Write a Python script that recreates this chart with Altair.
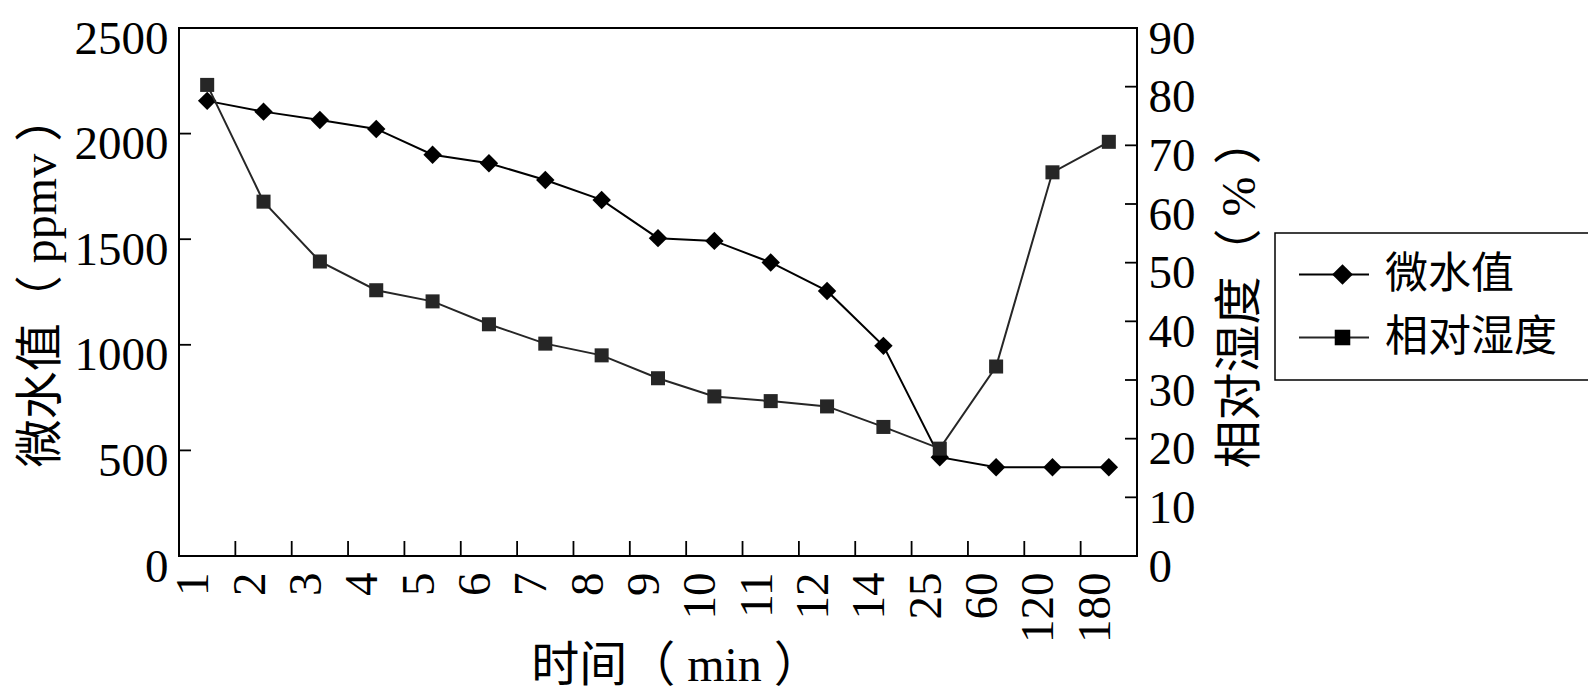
import altair as alt
import pandas as pd

# ---------------- data ----------------
times = ["1", "2", "3", "4", "5", "6", "7", "8", "9", "10", "11", "12", "14", "25", "60", "120", "180"]
moisture = [2155, 2104, 2064, 2022, 1900, 1860, 1780, 1686, 1505, 1492, 1390, 1255, 995, 468, 420, 420, 420]
humidity = [80.3, 60.4, 50.2, 45.3, 43.4, 39.5, 36.2, 34.2, 30.3, 27.2, 26.4, 25.5, 22.0, 18.3, 32.3, 65.4, 70.6]
series_names = ["微水值", "相对湿度"]
marker_keys = ["d", "s"]
left_ticks = [500, 1000, 1500, 2000]
right_ticks = [10, 20, 30, 40, 50, 60, 70, 80]
left_labels = [0, 500, 1000, 1500, 2000, 2500]
right_labels = [0, 10, 20, 30, 40, 50, 60, 70, 80, 90]

W, H = 958, 528
LATIN = "Liberation Serif"
MIXED = "Liberation Serif, Noto Sans CJK SC"
SQ_COLOR = "#262626"
TICK_FS = 47
TITLE_FS = 48

df = pd.DataFrame({"time": times, "moisture": moisture, "humidity": humidity})
xticks_df = pd.DataFrame({"b": times[1:]})
lt_df = pd.DataFrame({"v": left_ticks})
rt_df = pd.DataFrame({"v": right_ticks})

xscale = alt.Scale(type="band", domain=times, paddingInner=0, paddingOuter=0)
lscale = alt.Scale(domain=[0, 2500], nice=False)
rscale = alt.Scale(domain=[0, 90], nice=False)

x_axis = alt.Axis(
    title="时间（ min ）",
    labelAngle=-90,
    labelFont=LATIN,
    labelFontSize=TICK_FS,
    labelColor="black",
    labelPadding=16,
    labelOffset=-13,
    ticks=False,
    tickSize=0,
    domain=False,
    grid=False,
    labelOverlap=False,
    titleFont=MIXED,
    titleFontSize=TITLE_FS,
    titleFontWeight="normal",
    titleColor="black",
    titleX=497,
    titleY=110,
    titleAlign="center",
    titleBaseline="middle",
)

left_axis = alt.Axis(
    orient="left",
    values=left_labels,
    format="d",
    title="微水值（ ppmv ）",
    labelFont=LATIN,
    labelFontSize=TICK_FS,
    labelColor="black",
    labelPadding=11,
    labelOffset=11,
    labelFlush=False,
    labelOverlap=False,
    ticks=False,
    tickSize=0,
    domain=False,
    grid=False,
    titleFont=MIXED,
    titleFontSize=TITLE_FS,
    titleFontWeight="normal",
    titleColor="black",
    titleAngle=270,
    titleX=-138,
    titleY=252,
    titleAlign="center",
    titleBaseline="middle",
)

right_axis = alt.Axis(
    orient="right",
    values=right_labels,
    format="d",
    title="相对湿度（ % ）",
    labelFont=LATIN,
    labelFontSize=TICK_FS,
    labelColor="black",
    labelPadding=11,
    labelOffset=11,
    labelFlush=False,
    labelOverlap=False,
    ticks=False,
    tickSize=0,
    domain=False,
    grid=False,
    titleFont=MIXED,
    titleFontSize=TITLE_FS,
    titleFontWeight="normal",
    titleColor="black",
    titleAngle=270,
    titleX=103,
    titleY=264,
    titleAlign="center",
    titleBaseline="middle",
)


def xenc(field="time:N", band=0.5):
    return alt.X(field, scale=xscale, bandPosition=band, axis=x_axis)


LEG_X = 1096
LEG_Y = 205
LEG_PAD = 20
LEG_ROWPAD = 19
LEG_FONT = 43

stroke_enc = alt.Stroke(
    "series:N",
    scale=alt.Scale(domain=series_names, range=["black", SQ_COLOR]),
    legend=alt.Legend(
        title=None,
        orient="none",
        legendX=LEG_X,
        legendY=LEG_Y,
        padding=LEG_PAD,
        rowPadding=LEG_ROWPAD,
        strokeColor="black",
        labelFont=MIXED,
        labelFontSize=LEG_FONT,
        labelColor="black",
        labelOffset=47,
        labelLimit=1000,
        labelExpr="datum.label + '\u2800\u2800\u2800\u2800\u2800\u2800'",
        symbolType="M-1,0L3,0",
        symbolSize=1225,
        symbolStrokeWidth=2.2,
        symbolOpacity=1,
    ),
)

square_path = "M-0.75,-0.75L0.75,-0.75L0.75,0.75L-0.75,0.75Z"

shape_enc = alt.Shape(
    "marker:N",
    scale=alt.Scale(domain=marker_keys, range=["diamond", square_path]),
    legend=alt.Legend(
        title=None,
        orient="none",
        legendX=LEG_X + 26,
        legendY=LEG_Y,
        padding=LEG_PAD,
        rowPadding=LEG_ROWPAD,
        labelFont=MIXED,
        labelFontSize=LEG_FONT,
        labelExpr="' '",
        labelOpacity=0,
        symbolSize=430,
        symbolStrokeWidth=0,
        symbolOpacity=1,
        symbolFillColor="black",
    ),
)

base = alt.Chart(df)

m_line = base.transform_calculate(series="'微水值'").mark_line(strokeWidth=2).encode(
    x=xenc(), y=alt.Y("moisture:Q", scale=lscale, axis=left_axis), stroke=stroke_enc
)
m_pts = base.transform_calculate(marker="'d'").mark_point(
    filled=True, size=340, color="black", opacity=1
).encode(x=xenc(), y=alt.Y("moisture:Q", scale=lscale, axis=left_axis), shape=shape_enc)
m_ticks = alt.Chart(lt_df).mark_rule(color="black", strokeWidth=1.8).encode(
    y=alt.Y("v:Q", scale=lscale, axis=left_axis),
    x=alt.value(0),
    x2=alt.value(12),
)
left_layer = alt.layer(m_line, m_pts, m_ticks)

h_line = base.transform_calculate(series="'相对湿度'").mark_line(strokeWidth=2).encode(
    x=xenc(), y=alt.Y("humidity:Q", scale=rscale, axis=right_axis), stroke=stroke_enc
)
h_pts = base.transform_calculate(marker="'s'").mark_point(
    filled=True, size=350, color=SQ_COLOR, opacity=1
).encode(x=xenc(), y=alt.Y("humidity:Q", scale=rscale, axis=right_axis), shape=shape_enc)
r_ticks = alt.Chart(rt_df).mark_rule(color="black", strokeWidth=1.8).encode(
    y=alt.Y("v:Q", scale=rscale, axis=right_axis),
    x=alt.value(W - 12),
    x2=alt.value(W),
)
right_layer = alt.layer(h_line, h_pts, r_ticks)

x_ticks = alt.Chart(xticks_df).mark_rule(color="black", strokeWidth=1.8).encode(
    x=xenc("b:N", band=0),
    y=alt.value(H - 15),
    y2=alt.value(H),
)

chart = (
    alt.layer(left_layer, right_layer, x_ticks)
    .resolve_scale(y="independent")
    .properties(
        width=W,
        height=H,
        padding={"left": 171, "top": 20, "right": 451, "bottom": 134},
        autosize=alt.AutoSizeParams(type="none"),
    )
    .configure_view(stroke="black", strokeWidth=2)
    .configure_legend(strokeWidth=1.5)
)

chart.save("out.html", embed_options={"renderer": "svg", "actions": False})
